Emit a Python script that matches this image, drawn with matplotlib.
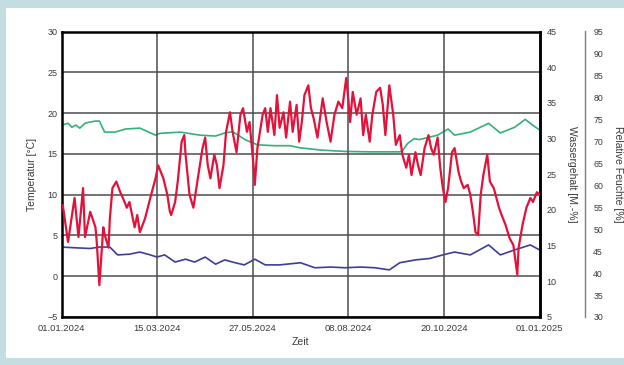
import matplotlib
matplotlib.use("Agg")
import matplotlib.pyplot as plt
from matplotlib.patches import Rectangle

plt.rcParams['font.family'] = ['Liberation Sans', 'DejaVu Sans']

# x axis: days since 01.01.2024
date_labels = ["01.01.2024", "15.03.2024", "27.05.2024", "08.08.2024", "20.10.2024", "01.01.2025"]
date_ticks = [0, 73.2, 146.4, 219.6, 292.8, 366]

# Temperatur [°C]
temp_day = [1, 5, 10, 13, 16.5, 18, 22, 26, 27, 29, 32, 33, 36, 37, 39, 42, 45, 47, 50, 52,
            56, 58, 60, 64, 68, 72, 74, 78, 81, 83, 84, 87, 89, 92, 94, 95, 98, 101, 104, 108,
            110, 112, 114, 117, 119, 121, 124, 126, 129, 131, 134, 137, 139, 142, 144, 147, 148, 150, 154, 156,
            158, 160, 163, 165, 167, 170, 172, 175, 177, 180, 182, 184, 186, 189, 191, 193, 196, 198, 200, 203,
            206, 209, 212, 215, 218, 220, 221, 223, 226, 229, 231, 233, 236, 238, 241, 244, 246, 248, 251, 254,
            256, 259, 261, 264, 266, 268, 271, 273, 275, 278, 281, 283, 285, 288, 290, 292, 294, 296, 299, 301,
            304, 306, 308, 311, 313, 315, 317, 319, 321, 323, 326, 328, 331, 333, 335, 337, 340, 343, 346, 349,
            350, 353, 356, 359, 361, 364, 366]
temp_val = [8.7, 4.2, 9.6, 4.8, 10.8, 4.8, 7.9, 6.0, 4.2, -1.1, 6.0, 5.1, 3.5, 7.0, 10.8, 11.6, 10.3, 9.6, 8.4, 9.1,
            6.0, 7.5, 5.4, 7.1, 9.6, 12.0, 13.6, 12.0, 10.0, 7.9, 7.5, 9.1, 11.6, 16.5, 17.3, 14.9, 10.0, 8.4, 11.6, 15.7,
            17.0, 13.6, 12.0, 14.9, 13.6, 10.8, 13.6, 17.7, 20.1, 17.7, 15.2, 19.8, 20.6, 17.7, 18.9, 13.6, 11.2, 15.7, 19.8, 20.6,
            17.7, 20.6, 17.3, 22.2, 18.2, 20.1, 17.0, 21.4, 17.7, 21.0, 16.5, 18.9, 22.2, 23.4, 20.6, 19.4, 17.0, 19.4, 21.8, 18.9,
            16.5, 19.8, 21.4, 20.6, 24.3, 21.0, 18.9, 22.6, 19.8, 21.8, 17.3, 19.8, 16.5, 19.8, 22.6, 23.1, 21.0, 17.3, 23.4, 19.8,
            16.1, 17.3, 14.9, 13.3, 14.9, 12.4, 15.2, 13.6, 12.4, 15.7, 17.3, 15.7, 14.9, 17.0, 13.3, 10.8, 9.1, 10.8, 15.2, 15.7,
            12.8, 11.6, 10.8, 11.2, 10.0, 7.9, 5.4, 5.1, 10.0, 12.4, 14.9, 11.6, 10.8, 9.6, 8.4, 7.5, 6.3, 4.7, 3.8, 0.2,
            3.5, 6.3, 8.4, 9.6, 9.1, 10.3, 10.0]

# Relative Feuchte [%]
rh_day = [0, 5, 8, 11, 14, 18, 22, 26, 29, 33, 41, 49, 60, 72, 75, 91, 106, 118, 125, 131,
          141, 150, 163, 175, 183, 199, 217, 236, 259, 261, 265, 270, 274, 288, 296, 301, 313, 327, 336, 347,
          355, 363, 366]
rh_val = [73.7, 74.1, 73.2, 73.7, 73.0, 74.1, 74.4, 74.6, 74.6, 72.1, 72.1, 72.8, 73.0, 71.4, 71.8, 72.1, 71.4, 71.2, 71.9, 72.2,
          70.3, 69.2, 69.0, 69.0, 68.5, 68.0, 67.7, 67.6, 67.6, 67.8, 69.5, 70.6, 70.4, 71.4, 72.8, 71.4, 72.1, 74.1, 71.9, 73.2,
          75.0, 73.2, 72.6]

# Wassergehalt [M.-%]
wg_day = [0, 10, 22, 29, 37, 43, 52, 60, 68, 73, 79, 87, 95, 102, 110, 118, 125, 133, 140, 148,
          156, 167, 183, 194, 206, 217, 229, 240, 251, 259, 271, 282, 292, 301, 313, 327, 336, 347, 359, 366]
wg_val = [14.8, 14.7, 14.6, 14.8, 14.8, 13.7, 13.8, 14.1, 13.7, 13.4, 13.7, 12.7, 13.1, 12.7, 13.4, 12.4, 13.0, 12.6, 12.3, 13.1,
          12.3, 12.3, 12.6, 11.9, 12.0, 11.9, 12.0, 11.9, 11.6, 12.6, 13.0, 13.2, 13.7, 14.1, 13.7, 15.1, 13.7, 14.4, 15.1, 14.4]

W, H = 624, 365
fig = plt.figure(figsize=(W / 100, H / 100), dpi=100)
fig.set_facecolor('#c4dde1')
fig.patches.append(Rectangle((6 / W, 7 / H), 618 / W, 350 / H, transform=fig.transFigure,
                             facecolor='white', edgecolor='none', zorder=-10))

ax = fig.add_axes([61.5 / W, 48 / H, 478 / W, 285.5 / H])
ax2 = ax.twinx()
ax3 = ax.twinx()
ax2.set_zorder(1)
ax3.set_zorder(1)
ax.set_zorder(2)
for a in (ax, ax2, ax3):
    a.patch.set_visible(False)

tick_col = '#3a3a3a'

# Temperature axis
ax.plot(temp_day, temp_val, color='#e3123a', lw=1.6, zorder=3)
ax.set_xlim(0, 366)
ax.set_ylim(-5, 30)
ax.set_yticks(range(-5, 31, 5))
ax.set_xticks(date_ticks)
ax.set_xticklabels(date_labels)
ax.grid(True, color='#4d4d4d', lw=1.1)
ax.tick_params(axis='y', length=0, labelsize=6.5, colors=tick_col, pad=3)
ax.tick_params(axis='x', length=0, labelsize=6.8, colors=tick_col, pad=5)
ax.set_ylabel('Temperatur [°C]', fontsize=7.5, color=tick_col)
ax.yaxis.set_label_coords(-0.051, 0.5)
ax.set_xlabel('Zeit', fontsize=7.5, color=tick_col, labelpad=3)
for s in ax.spines.values():
    s.set_color('black')
    s.set_linewidth(1.8)

# Wassergehalt axis
ax2.plot(wg_day, wg_val, color='#3d3d9a', lw=1.2)
ax2.set_ylim(5, 45)
ax2.set_yticks(range(5, 46, 5))
ax2.tick_params(axis='y', length=0, labelsize=6.5, colors=tick_col, pad=5)
ax2.set_ylabel('Wassergehalt [M.-%]', fontsize=7.5, color=tick_col, rotation=270, va='center')
ax2.yaxis.set_label_coords(1.068, 0.5)
for k, s in ax2.spines.items():
    s.set_visible(k == 'right')
ax2.spines['right'].set_color('black')
ax2.spines['right'].set_linewidth(1.8)

# Relative Feuchte axis
ax3.plot(rh_day, rh_val, color='#34b07a', lw=1.2)
ax3.set_ylim(30, 95)
ax3.set_yticks(range(30, 96, 5))
ax3.spines['right'].set_position(('axes', 1.095))
for k, s in ax3.spines.items():
    s.set_visible(k == 'right')
ax3.spines['right'].set_color('#808080')
ax3.spines['right'].set_linewidth(1.0)
ax3.tick_params(axis='y', length=0, labelsize=6.3, colors=tick_col, pad=6)
ax3.set_ylabel('Relative Feuchte [%]', fontsize=7.5, color=tick_col, rotation=270, va='center')
ax3.yaxis.set_label_coords(1.164, 0.5)

fig.savefig('out.png', dpi=100, facecolor=fig.get_facecolor())
